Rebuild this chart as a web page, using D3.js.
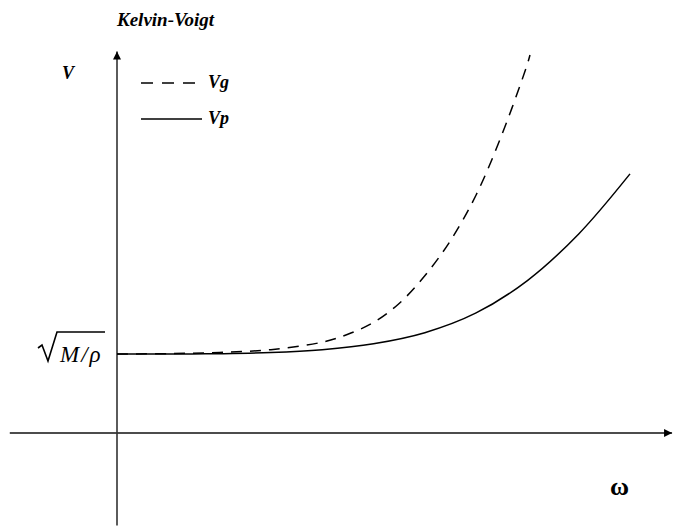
<!DOCTYPE html>
<html>
<head>
<meta charset="utf-8">
<script src="https://cdn.jsdelivr.net/npm/d3@7"></script>
<style>
  html, body { margin: 0; padding: 0; background: #fff; }
  svg { display: block; }
  text { font-family: "Liberation Serif", "DejaVu Serif", serif; fill: #000; }
</style>
</head>
<body>
<div id="chart"></div>
<script>
// ---- data (omega in arbitrary units, V normalised by sqrt(M/rho)) ----
const omegaVp = [0, 1, 2, 3, 4, 5, 6, 7, 8, 9, 10];
const valuesVp = [1.0, 1.0, 1.004, 1.018, 1.055, 1.13, 1.27, 1.52, 1.93, 2.52, 3.28];
const omegaVg = [0, 1, 2, 3, 4, 4.5, 5, 5.5, 6, 6.5, 7, 7.5, 8, 8.05];
const valuesVg = [1.0, 1.005, 1.02, 1.055, 1.15, 1.25, 1.40, 1.64, 1.99, 2.435, 3.013, 3.772, 4.671, 4.785];
const seriesNames = ["Vg", "Vp"];
const chartTitle = "Kelvin-Voigt";
const yLabel = "V";
const xLabel = "ω";
const baseLabel = "M/ρ";
const baseValue = 1.0;

const W = 674, H = 527;
const svg = d3.select("#chart").append("svg").attr("width", W).attr("height", H);

// scales: origin at (117, 433)
const x = d3.scaleLinear().domain([0, 10]).range([117, 630]);
const y = d3.scaleLinear().domain([0, 1]).range([433, 354]);

// arrow markers
const defs = svg.append("defs");
defs.append("marker").attr("id", "arr").attr("viewBox", "0 0 10 10")
  .attr("refX", 10).attr("refY", 5).attr("markerWidth", 12).attr("markerHeight", 8)
  .attr("markerUnits", "userSpaceOnUse").attr("orient", "auto")
  .append("path").attr("d", "M0,0 L10,5 L0,10 z").attr("fill", "#000");
defs.append("marker").attr("id", "arrV").attr("viewBox", "0 0 10 10")
  .attr("refX", 10).attr("refY", 5).attr("markerWidth", 16).attr("markerHeight", 8)
  .attr("markerUnits", "userSpaceOnUse").attr("orient", "auto")
  .append("path").attr("d", "M0,0 L10,5 L0,10 z").attr("fill", "#000");

// axes
svg.append("line")
  .attr("x1", x(-2.09)).attr("x2", x(10.82))
  .attr("y1", y(0)).attr("y2", y(0))
  .attr("stroke", "#111").attr("stroke-width", 1.5).attr("marker-end", "url(#arr)");
svg.append("line")
  .attr("x1", x(0)).attr("x2", x(0))
  .attr("y1", y(-1.17)).attr("y2", y(4.83))
  .attr("stroke", "#333").attr("stroke-width", 1.6).attr("marker-end", "url(#arrV)");

// curves
const line = d3.line().x(d => x(d[0])).y(d => y(d[1])).curve(d3.curveCatmullRom.alpha(0.5));
const vg = omegaVg.map((w, i) => [w, valuesVg[i]]);
const vp = omegaVp.map((w, i) => [w, valuesVp[i]]);

svg.append("path").datum(vp).attr("d", line)
  .attr("fill", "none").attr("stroke", "#000").attr("stroke-width", 1.5);
svg.append("path").datum(vg).attr("d", line)
  .attr("fill", "none").attr("stroke", "#000").attr("stroke-width", 1.5)
  .attr("stroke-dasharray", "11,8");

// title
svg.append("text").attr("x", 117).attr("y", 26)
  .attr("font-size", 19).attr("font-weight", "bold").attr("font-style", "italic")
  .text(chartTitle);

// y label
svg.append("text").attr("x", 62).attr("y", 79)
  .attr("font-size", 18).attr("font-weight", "bold").attr("font-style", "italic")
  .text(yLabel);

// x label
svg.append("text").attr("x", 610).attr("y", 495)
  .attr("font-size", 26).attr("font-weight", "bold")
  .text(xLabel);

// legend
const legend = [
  { name: seriesNames[0], y: 83, dash: "12,9" },
  { name: seriesNames[1], y: 119, dash: null }
];
legend.forEach(l => {
  const ln = svg.append("line").attr("x1", 141).attr("x2", 202)
    .attr("y1", l.y).attr("y2", l.y)
    .attr("stroke", "#000").attr("stroke-width", 1.3);
  if (l.dash) ln.attr("stroke-dasharray", l.dash);
  svg.append("text").attr("x", 208).attr("y", l.y + 5)
    .attr("font-size", 18).attr("font-weight", "bold").attr("font-style", "italic")
    .text(l.name);
});

// sqrt(M/rho) label at baseline: radical drawn as a path, label as text
const by = y(baseValue);
svg.append("path")
  .attr("d", `M38,${by - 6} L42,${by - 9} L48,${by + 7} L57,${by - 22} L105,${by - 22}`)
  .attr("fill", "none").attr("stroke", "#000").attr("stroke-width", 1.6)
  .attr("stroke-linejoin", "miter");
svg.append("text").attr("x", 60).attr("y", by + 8)
  .attr("font-size", 23).attr("font-style", "italic").attr("letter-spacing", 2)
  .text(baseLabel);
</script>
</body>
</html>
